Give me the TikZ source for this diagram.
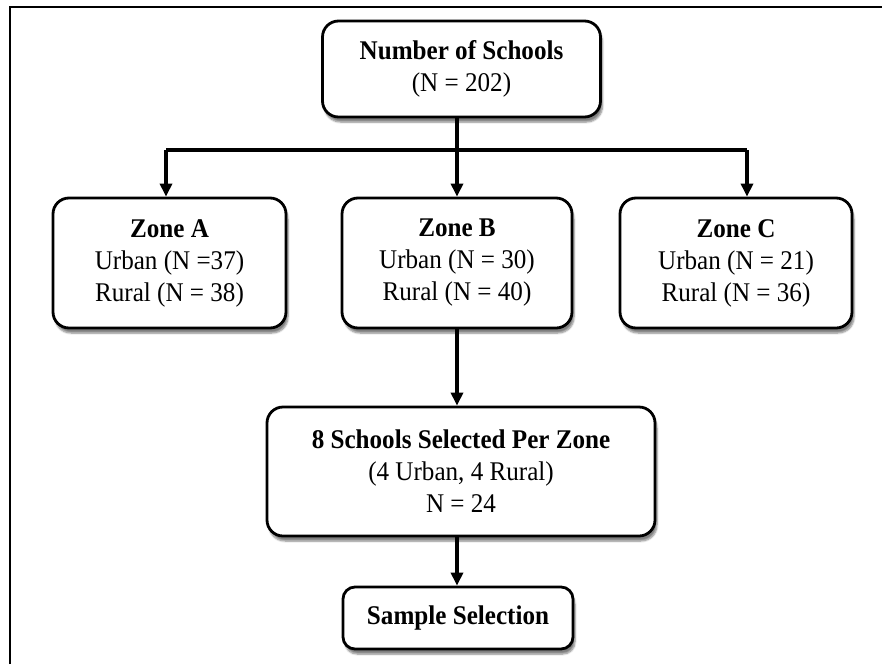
\documentclass[tikz,border=0pt]{standalone}
\usepackage{fontspec}
\setmainfont[FakeStretch=0.93]{Liberation Serif}
\usetikzlibrary{arrows.meta,shadows.blur}
\begin{document}
\begin{tikzpicture}[x=1pt,y=1pt,
  box/.style={draw=black, line width=2.8pt, rounded corners=16pt, fill=white,
    align=center, inner sep=0pt,
    font=\fontsize{27}{32}\selectfont,
    blur shadow={shadow xshift=2pt, shadow yshift=-5pt, shadow blur steps=6, shadow opacity=50}},
  conn/.style={line width=3.2pt, draw=black},
  arr/.style={conn, -{Triangle[length=13pt,width=12pt]}, shorten >=0pt},
  frame/.style={line width=2pt, draw=black}]
\useasboundingbox (0,0) rectangle (882,-664);
% outer frame (top and left edges only)
\coordinate (fL) at (10,-664);
\coordinate (fTL) at (10,-7);
\coordinate (fR) at (882,-7);
\draw[frame] (fL) -- (fTL) -- (fR);

\node[box, minimum width=278pt, minimum height=96pt] (top) at (461.5,-69)
  {\textbf{Number of Schools}\\(N = 202)};
\node[box, minimum width=233pt, minimum height=130pt] (zA) at (169.5,-263)
  {\textbf{Zone A}\\Urban (N =37)\\Rural (N = 38)};
\node[box, minimum width=230pt, minimum height=130pt] (zB) at (457,-263)
  {\textbf{Zone B}\\Urban (N = 30)\\Rural (N = 40)};
\node[box, minimum width=232pt, minimum height=130pt] (zC) at (736,-263)
  {\textbf{Zone C}\\Urban (N = 21)\\Rural (N = 36)};
\node[box, minimum width=388pt, minimum height=129pt] (sel) at (461,-471.5)
  {\textbf{8 Schools Selected Per Zone}\\(4 Urban, 4 Rural)\\N = 24};
\node[box, minimum width=230pt, minimum height=62pt, rounded corners=12pt] (samp) at (458,-618)
  {\textbf{Sample Selection}};

\coordinate (split) at (457,-150);
\coordinate (hL) at (166,-150);
\coordinate (hR) at (747,-150);

\draw[conn] (split |- top.south) -- (split);
\draw[conn] (hL) -- (hR);
\draw[arr] (hL) -- (hL |- zA.north);
\draw[arr] (split) -- (split |- zB.north);
\draw[arr] (hR) -- (hR |- zC.north);
\draw[arr] (split |- zB.south) -- (split |- sel.north);
\draw[arr] (split |- sel.south) -- (split |- samp.north);
\end{tikzpicture}
\end{document}
